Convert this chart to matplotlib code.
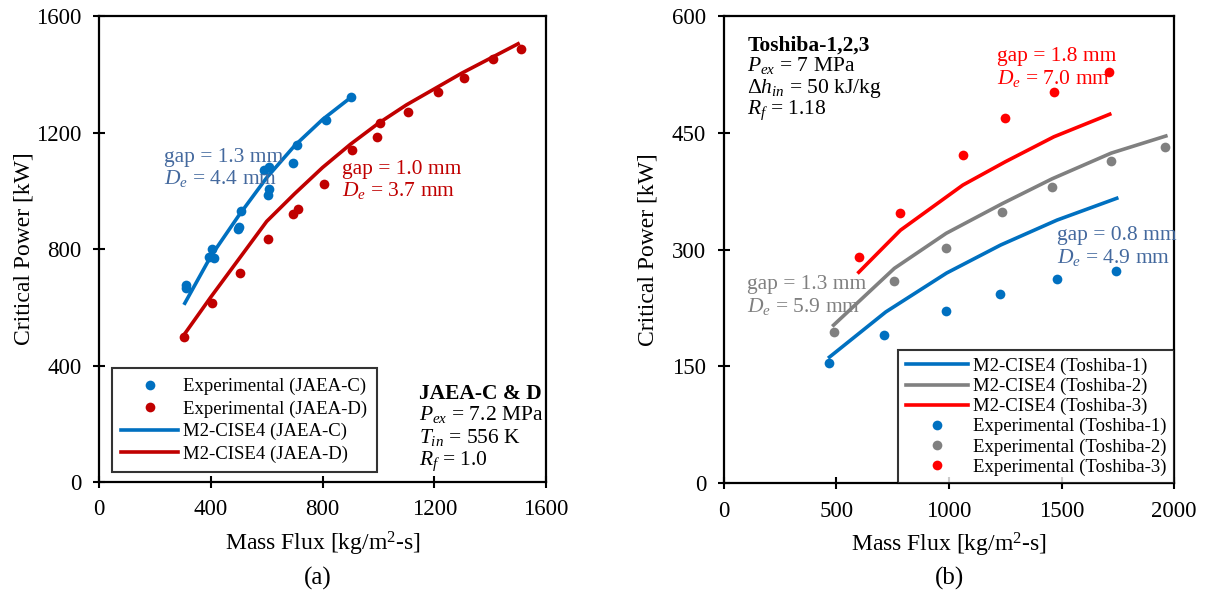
import numpy as np
from matplotlib import pyplot as plt

plt.rcParams['font.family'] = ['Liberation Serif', 'DejaVu Serif']
plt.rcParams['mathtext.fontset'] = 'custom'
plt.rcParams['mathtext.rm'] = 'Liberation Serif'
plt.rcParams['mathtext.it'] = 'Liberation Serif:italic'
plt.rcParams['mathtext.bf'] = 'Liberation Serif:bold'

# (a) JAEA-C & D
c_exp_x = [310, 310, 405, 394, 412, 507, 501, 497, 590, 609, 609, 603, 695, 708, 811, 903]
c_exp_y = [676, 666, 799, 773, 768, 930, 876, 868, 1071, 1083, 1008, 985, 1096, 1157, 1243, 1321]
c_mod_x = [307, 400, 500, 600, 700, 800, 907]
c_mod_y = [614, 775, 915, 1045, 1155, 1245, 1325]

d_exp_x = [304, 406, 504, 605, 694, 712, 805, 904, 994, 1006, 1106, 1213, 1306, 1411, 1510]
d_exp_y = [497, 614, 719, 834, 920, 937, 1023, 1140, 1186, 1232, 1271, 1338, 1388, 1452, 1486]
d_mod_x = [300, 400, 500, 600, 700, 800, 900, 1000, 1100, 1200, 1300, 1400, 1500]
d_mod_y = [500, 635, 765, 895, 990, 1080, 1160, 1232, 1295, 1350, 1405, 1455, 1505]

# (b) Toshiba-1,2,3
t1_exp_x = [470, 714, 988, 1227, 1480, 1741]
t1_exp_y = [155, 191, 221, 243, 262, 273]
t1_mod_x = [470, 720, 990, 1230, 1480, 1745]
t1_mod_y = [162, 220, 270, 306, 338, 366]

t2_exp_x = [488, 758, 988, 1236, 1458, 1720, 1959]
t2_exp_y = [194, 260, 302, 349, 381, 414, 432]
t2_mod_x = [488, 758, 988, 1236, 1458, 1720, 1963]
t2_mod_y = [203, 276, 321, 359, 391, 424, 446]

t3_exp_x = [600, 785, 1062, 1251, 1466, 1712]
t3_exp_y = [291, 347, 422, 469, 502, 528]
t3_mod_x = [600, 785, 1062, 1251, 1466, 1714]
t3_mod_y = [271, 325, 383, 413, 445, 474]

blue = '#0070C0'
dred = '#C00000'
gray = '#808080'
red = '#FF0000'
bluegray = '#44699E'

fig = plt.figure(figsize=(12.08, 5.98), dpi=100)
ax1 = fig.add_axes([0.082, 0.194, 0.370, 0.779])
ax2 = fig.add_axes([0.599, 0.192, 0.373, 0.781])

ms = 7
lw = 2.6
fs = 15.5

ax1.plot(c_exp_x, c_exp_y, 'o', color=blue, ms=ms, mec='none', label='Experimental (JAEA-C)')
ax1.plot(d_exp_x, d_exp_y, 'o', color=dred, ms=ms, mec='none', label='Experimental (JAEA-D)')
ax1.plot(c_mod_x, c_mod_y, '-', color=blue, lw=lw, label='M2-CISE4 (JAEA-C)')
ax1.plot(d_mod_x, d_mod_y, '-', color=dred, lw=lw, label='M2-CISE4 (JAEA-D)')
ax1.set_xlim(0, 1600)
ax1.set_ylim(0, 1600)
ax1.set_xticks([0, 400, 800, 1200, 1600])
ax1.set_yticks([0, 400, 800, 1200, 1600])
ax1.set_xlabel('Mass Flux [kg/m$^2$-s]', fontsize=17, labelpad=7)
ax1.set_ylabel('Critical Power [kW]', fontsize=17, labelpad=1)
leg1 = ax1.legend(loc='lower left', bbox_to_anchor=(0.029, 0.021), fontsize=13.5, frameon=True,
                  fancybox=False, edgecolor='black', handlelength=3.0, handletextpad=0.3,
                  borderpad=0.5, labelspacing=0.28, borderaxespad=0)
leg1.get_frame().set_linewidth(1.5)

ax1.text(233, 1147, 'gap = 1.3 mm\n$D_e$ = 4.4 mm', color=bluegray, fontsize=fs,
         va='top', linespacing=1.08)
ax1.text(870, 1106, 'gap = 1.0 mm\n$D_e$ = 3.7 mm', color=dred, fontsize=fs,
         va='top', linespacing=1.08)
ax1.text(1146, 285, 'JAEA-C & D', fontsize=fs, fontweight='bold', va='baseline')
ax1.text(1146, 213, '$P_{ex}$ = 7.2 MPa', fontsize=fs, va='baseline')
ax1.text(1146, 134, '$T_{in}$ = 556 K', fontsize=fs, va='baseline')
ax1.text(1146, 58, '$R_f$ = 1.0', fontsize=fs, va='baseline')

ax2.plot(t1_mod_x, t1_mod_y, '-', color=blue, lw=lw, label='M2-CISE4 (Toshiba-1)')
ax2.plot(t2_mod_x, t2_mod_y, '-', color=gray, lw=lw, label='M2-CISE4 (Toshiba-2)')
ax2.plot(t3_mod_x, t3_mod_y, '-', color=red, lw=lw, label='M2-CISE4 (Toshiba-3)')
ax2.plot(t1_exp_x, t1_exp_y, 'o', color=blue, ms=ms, mec='none', label='Experimental (Toshiba-1)')
ax2.plot(t2_exp_x, t2_exp_y, 'o', color=gray, ms=ms, mec='none', label='Experimental (Toshiba-2)')
ax2.plot(t3_exp_x, t3_exp_y, 'o', color=red, ms=ms, mec='none', label='Experimental (Toshiba-3)')
ax2.set_xlim(0, 2000)
ax2.set_ylim(0, 600)
ax2.set_xticks([0, 500, 1000, 1500, 2000])
ax2.set_yticks([0, 150, 300, 450, 600])
ax2.set_xlabel('Mass Flux [kg/m$^2$-s]', fontsize=17, labelpad=7)
ax2.set_ylabel('Critical Power [kW]', fontsize=17, labelpad=10)
leg2 = ax2.legend(loc='lower right', bbox_to_anchor=(1.0, 0.0), fontsize=13.5, frameon=True,
                  fancybox=False, edgecolor='black', handlelength=3.3, handletextpad=0.3,
                  borderpad=0.4, labelspacing=0.15, borderaxespad=0)
leg2.get_frame().set_linewidth(1.5)

ax2.text(106, 556, 'Toshiba-1,2,3', fontsize=fs, fontweight='bold', va='baseline')
ax2.text(106, 529, '$P_{ex}$ = 7 MPa', fontsize=fs, va='baseline')
ax2.text(106, 501, '$Δh_{in}$ = 50 kJ/kg', fontsize=fs, va='baseline')
ax2.text(106, 474, '$R_f$ = 1.18', fontsize=fs, va='baseline')
ax2.text(1215, 560, 'gap = 1.8 mm\n$D_e$ = 7.0 mm', color=red, fontsize=fs,
         va='top', linespacing=1.08)
ax2.text(1481, 330, 'gap = 0.8 mm\n$D_e$ = 4.9 mm', color=bluegray, fontsize=fs,
         va='top', linespacing=1.08)
ax2.text(106, 267, 'gap = 1.3 mm\n$D_e$ = 5.9 mm', color=gray, fontsize=fs,
         va='top', linespacing=1.08)

for ax in (ax1, ax2):
    ax.tick_params(axis='both', which='both', direction='inout', length=9, width=1.5,
                   labelsize=16.5, top=False, right=False, pad=8)
    for s in ax.spines.values():
        s.set_linewidth(1.6)

fig.text(0.263, 0.033, '(a)', fontsize=18, ha='center', va='center')
fig.text(0.786, 0.033, '(b)', fontsize=18, ha='center', va='center')

fig.savefig('out.png', dpi=100)
